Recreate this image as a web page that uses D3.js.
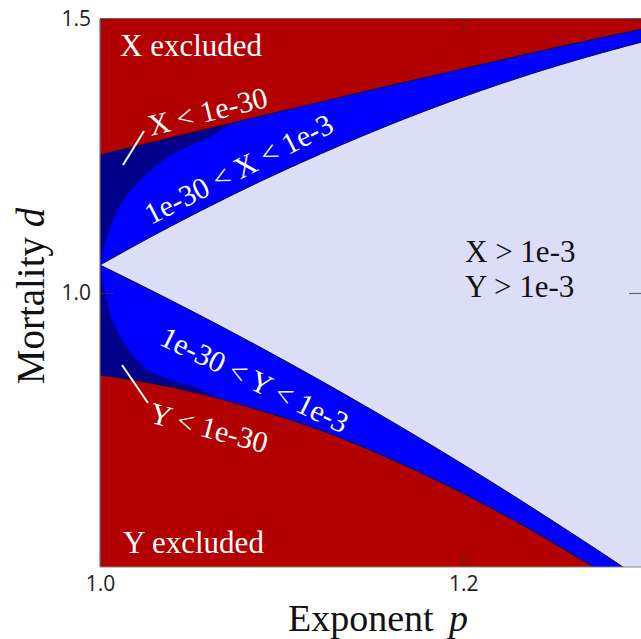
<!DOCTYPE html>
<html><head><meta charset="utf-8">
<script src="https://cdn.jsdelivr.net/npm/d3@7"></script>
<style>html,body{margin:0;padding:0;background:#fff;}svg{display:block;}</style>
</head><body>
<svg id="chart" width="641" height="639"></svg>
<script>
// ---- data: region boundaries in (exponent p, mortality d) ----
const xExcludedBoundary = [[1.000,1.2518],[1.0275,1.2741],[1.055,1.2962],[1.088,1.3224],[1.1211,1.3484],[1.1651,1.3827],[1.2092,1.4164],[1.2532,1.4496],[1.300,1.4828]];
const xAbove1e3Boundary = [[1.000,1.0511],[1.0275,1.1016],[1.055,1.1493],[1.088,1.2033],[1.1211,1.2533],[1.1651,1.3144],[1.2092,1.3688],[1.2532,1.4162],[1.300,1.4595]];
const xBelow1e30Boundary = [[1.000,1.0511],[1.0017,1.079],[1.0033,1.097],[1.0055,1.119],[1.0083,1.142],[1.011,1.159],[1.018,1.192],[1.026,1.219],[1.035,1.243],[1.044,1.261],[1.055,1.277],[1.063,1.290],[1.0716,1.3093]];
const yAbove1e3Boundary = [[1.000,1.0511],[1.0275,1.0060],[1.055,0.9593],[1.088,0.9013],[1.1211,0.8407],[1.1761,0.7349],[1.2312,0.6224],[1.2642,0.5518],[1.2879,0.4999],[1.300,0.4728]];
const yExcludedBoundary = [[1.000,0.8504],[1.0275,0.8359],[1.055,0.8162],[1.088,0.7859],[1.1211,0.7500],[1.1651,0.6894],[1.1982,0.6372],[1.2367,0.5688],[1.2708,0.5018],[1.2862,0.4708]];
const yBelow1e30Boundary = [[1.000,1.0511],[1.0011,1.027],[1.0022,1.006],[1.0039,0.982],[1.0055,0.960],[1.0083,0.938],[1.011,0.920],[1.0165,0.892],[1.0248,0.863],[1.033,0.8485],[1.044,0.8358],[1.055,0.8248],[1.0633,0.8093]];
const xTicks = [1.0, 1.2];
const yTicks = [1.0, 1.5];
const xDomain = [1.0, 1.3];
const yDomain = [0.5, 1.5];

// ---- layout ----
const L = 100, R = 645, T = 19, B = 567;
const svg = d3.select("#chart");
const x = d3.scaleLinear().domain(xDomain).range([L, R]);
const y = d3.scaleLinear().domain(yDomain).range([B, T]);

const colRed = "#b30000", colNavy = "#000088", colBlue = "#0000ff", colLav = "#dcdef8", colEdge = "#10103a";

svg.append("defs").append("clipPath").attr("id","plotclip")
  .append("rect").attr("x",L).attr("y",T).attr("width",R-L).attr("height",B-T);
const g = svg.append("g").attr("clip-path","url(#plotclip)");

const line = d3.line().x(d=>x(d[0])).y(d=>y(d[1])).curve(d3.curveMonotoneX);
function seg(pts, first){ const s = line(pts); return first ? s : s.replace(/^M/,"L"); }
function rev(pts){ return pts.slice().reverse(); }
const farX = 1.4, lowD = 0.4;

// red background
g.append("rect").attr("x",L).attr("y",T).attr("width",R-L).attr("height",B-T).attr("fill",colRed);

// navy: between X-excluded and Y-excluded boundaries
const navyPath = seg(xExcludedBoundary,true)
  + "L" + x(farX) + "," + y(xExcludedBoundary[xExcludedBoundary.length-1][1])
  + "L" + x(farX) + "," + y(lowD)
  + "L" + x(yExcludedBoundary[yExcludedBoundary.length-1][0]) + "," + y(lowD)
  + seg(rev(yExcludedBoundary),false) + "Z";
g.append("path").attr("d",navyPath).attr("fill",colNavy);

// blue: between the 1e-30 boundaries (merging into the excluded boundaries)
const cEnd = xBelow1e30Boundary[xBelow1e30Boundary.length-1];
const aRest = [cEnd].concat(xExcludedBoundary.filter(d=>d[0]>cEnd[0]+1e-6));
const fEnd = yBelow1e30Boundary[yBelow1e30Boundary.length-1];
const eRest = [fEnd].concat(yExcludedBoundary.filter(d=>d[0]>fEnd[0]+1e-6));
const bluePath = seg(xBelow1e30Boundary,true) + seg(aRest,false)
  + "L" + x(farX) + "," + y(aRest[aRest.length-1][1])
  + "L" + x(farX) + "," + y(lowD)
  + "L" + x(eRest[eRest.length-1][0]) + "," + y(lowD)
  + seg(rev(eRest),false) + seg(rev(yBelow1e30Boundary),false) + "Z";
g.append("path").attr("d",bluePath).attr("fill",colBlue);

// lavender: X > 1e-3 and Y > 1e-3
const lavPath = seg(xAbove1e3Boundary,true)
  + "L" + x(farX) + "," + y(xAbove1e3Boundary[xAbove1e3Boundary.length-1][1])
  + "L" + x(farX) + "," + y(lowD)
  + seg(rev(yAbove1e3Boundary),false) + "Z";
g.append("path").attr("d",lavPath).attr("fill",colLav);

// boundary strokes
[xExcludedBoundary, xAbove1e3Boundary, yAbove1e3Boundary, yExcludedBoundary].forEach(pts=>{
  g.append("path").attr("d",line(pts)).attr("fill","none").attr("stroke",colEdge).attr("stroke-width",1);
});
[xBelow1e30Boundary, yBelow1e30Boundary].forEach(pts=>{
  g.append("path").attr("d",line(pts)).attr("fill","none").attr("stroke","#0000a8").attr("stroke-width",0.8);
});

// region labels
const serif = "'Liberation Serif','Times New Roman',serif";
function label(txt, px, py, rot, color, size){
  svg.append("text").attr("transform",`translate(${px},${py}) rotate(${rot})`)
    .attr("font-family",serif).attr("font-size",size).attr("fill",color).text(txt);
}
label("X excluded", 120, 56, 0, "#fff", 31);
label("Y excluded", 123, 553, 0, "#fff", 31);
label("X < 1e-30", 151, 136, -14, "#fff", 30);
label("Y < 1e-30", 148, 422, 15, "#fff", 30);
label("1e-30 < X < 1e-3", 151, 225, -27, "#fff", 30);
label("1e-30 < Y < 1e-3", 158, 344, 26, "#fff", 30);
label("X > 1e-3", 465, 262, 0, "#111", 31);
label("Y > 1e-3", 465, 297, 0, "#111", 31);
// leader lines
svg.append("line").attr("x1",144).attr("y1",131).attr("x2",123).attr("y2",165).attr("stroke","#fff").attr("stroke-width",2);
svg.append("line").attr("x1",122).attr("y1",365).attr("x2",148).attr("y2",403).attr("stroke","#fff").attr("stroke-width",2);

// axes
const sans = "'Open Sans','Noto Sans',sans-serif";
function styleAxis(sel){
  sel.select(".domain").remove();
  sel.selectAll(".tick line").attr("stroke","#333").attr("stroke-opacity",0.7).attr("stroke-width",1.2);
  sel.selectAll(".tick text").attr("font-family",sans).attr("font-size",21).attr("fill","#222");
}
const fmt = d3.format(".1f");
svg.append("g").attr("transform",`translate(0,${B})`)
  .call(d3.axisBottom(x).tickValues(xTicks).tickFormat(fmt).tickSizeInner(-14).tickSizeOuter(0).tickPadding(9))
  .call(styleAxis);
svg.append("g").attr("transform",`translate(0,${T})`)
  .call(d3.axisTop(x).tickValues(xTicks).tickFormat("").tickSizeInner(-14).tickSizeOuter(0))
  .call(styleAxis);
svg.append("g").attr("transform",`translate(${L},0)`)
  .call(d3.axisLeft(y).tickValues(yTicks).tickFormat(fmt).tickSizeInner(-14).tickSizeOuter(0).tickPadding(9))
  .call(styleAxis);
svg.append("g").attr("transform",`translate(${R},0)`)
  .call(d3.axisRight(y).tickValues(yTicks).tickFormat("").tickSizeInner(-16).tickSizeOuter(0))
  .call(styleAxis);

// frame
svg.append("line").attr("x1",L).attr("y1",T).attr("x2",L).attr("y2",B).attr("stroke","#777").attr("stroke-width",1.2);
svg.append("line").attr("x1",L).attr("y1",B).attr("x2",R).attr("y2",B).attr("stroke","#888").attr("stroke-width",1.2);
svg.append("line").attr("x1",L).attr("y1",T).attr("x2",R).attr("y2",T).attr("stroke","#7a1414").attr("stroke-width",1.5);

// axis titles
const xt = svg.append("text").attr("x",378).attr("y",631).attr("text-anchor","middle")
  .attr("font-family",serif).attr("font-size",38).attr("fill","#111");
xt.append("tspan").text("Exponent ");
xt.append("tspan").attr("font-style","italic").attr("dx",6).text("p");
const yt = svg.append("text").attr("transform","translate(44,296) rotate(-90)").attr("text-anchor","middle")
  .attr("font-family",serif).attr("font-size",39).attr("fill","#111");
yt.append("tspan").text("Mortality ");
yt.append("tspan").attr("font-style","italic").text("d");
</script>
</body></html>
